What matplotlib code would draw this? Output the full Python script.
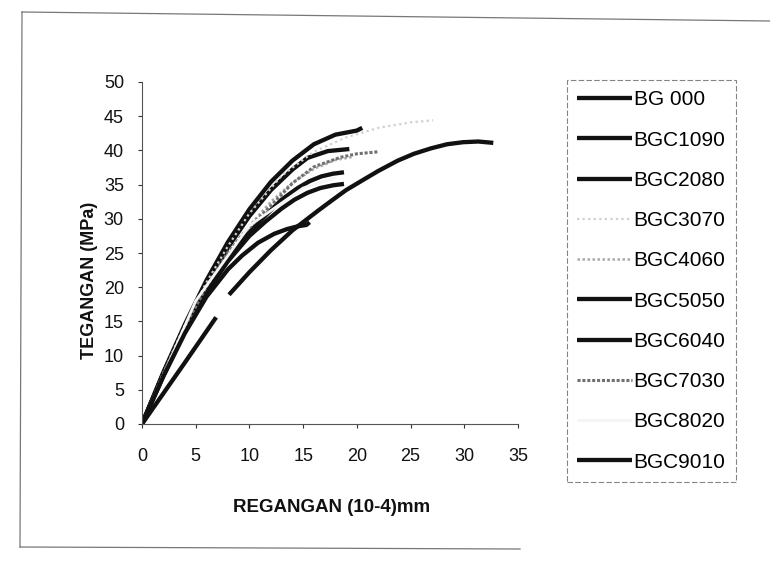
#!/usr/bin/env python3
"""Stress-strain curves for BG/BGC concrete mixes (tegangan vs regangan)."""

import matplotlib

matplotlib.use("Agg")
import matplotlib.pyplot as plt
import numpy as np
from matplotlib.lines import Line2D

plt.rcParams["font.family"] = ["Liberation Sans", "DejaVu Sans"]

W, H = 770, 561

# series: strain (10^-4) and stress (MPa)
labels = ["BG 000", "BGC1090", "BGC2080", "BGC3070", "BGC4060",
          "BGC5050", "BGC6040", "BGC7030", "BGC8020", "BGC9010"]

bg000_x = [0, 2, 4, 6.9, np.nan, 8.1, 10, 12, 14, 16.4, 17.6, 19, 20.6, 22, 23.8,
           25.3, 26.9, 28.4, 29.9, 31.3, 32.7]
bg000_y = [0, 4.5, 9.0, 15.6, np.nan, 18.9, 22.2, 25.4, 28.3, 31.2, 32.6, 34.2, 35.7,
           37.0, 38.5, 39.5, 40.3, 40.9, 41.2, 41.3, 41.1]
bgc1090_x = [0, 2, 4, 6, 8, 10, 12, 14, 16, 18, 20, 20.5]
bgc1090_y = [0, 7.6, 14.6, 21.0, 26.6, 31.4, 35.4, 38.5, 40.9, 42.3, 42.9, 43.3]
bgc2080_x = [0, 2, 4, 6, 8, 10, 12, 14, 15.4, 17.3, 19.3]
bgc2080_y = [0, 7.5, 14.3, 20.4, 25.8, 30.4, 34.2, 37.2, 38.9, 39.9, 40.2]
bgc3070_x = [0, 2, 4, 6, 8, 10, 13, 16, 19, 22, 25, 27.1]
bgc3070_y = [0, 7.6, 14.5, 20.7, 26.0, 30.8, 36.3, 39.8, 41.9, 43.3, 44.1, 44.4]
bgc4060_x = [0, 2, 4, 6, 8, 10, 12, 14, 16, 18, 19.5]
bgc4060_y = [0, 7.3, 14.0, 19.8, 24.8, 29.0, 32.5, 35.3, 37.3, 38.6, 39.0]
bgc5050_x = [0, 2, 4, 6, 8, 9.3, 11.7, 13, 14.5, 15.6, 16.7, 17.8, 18.8]
bgc5050_y = [0, 7.2, 13.8, 19.6, 24.5, 26.9, 30.8, 32.8, 34.5, 35.5, 36.2, 36.6, 36.8]
bgc6040_x = [0, 2, 4, 6, 8, 10, 11.5, 13, 14.2, 15.4, 16.6, 17.8, 18.8]
bgc6040_y = [0, 7.1, 13.6, 19.2, 23.8, 27.5, 29.6, 31.5, 32.8, 33.8, 34.5, 34.9, 35.1]
bgc7030_x = [0, 2, 4, 6, 8, 9.3, 12.3, 14, 16, 18.5, 20, 22]
bgc7030_y = [0, 7.4, 14.2, 20.1, 25.1, 27.6, 32.4, 35.2, 37.6, 39.0, 39.5, 39.8]
bgc8020_x = [0, 5, 10, 15, 18]
bgc8020_y = [0, 18.0, 29.0, 34.5, 36.0]
bgc9010_x = [0, 2, 4, 6, 8, 9.3, 10.8, 12.3, 13.5, 14.5, 15.3, 15.6]
bgc9010_y = [0, 7.0, 13.3, 18.6, 22.6, 24.6, 26.5, 27.8, 28.5, 28.9, 29.1, 29.5]

xs = [bg000_x, bgc1090_x, bgc2080_x, bgc3070_x, bgc4060_x,
      bgc5050_x, bgc6040_x, bgc7030_x, bgc8020_x, bgc9010_x]
ys = [bg000_y, bgc1090_y, bgc2080_y, bgc3070_y, bgc4060_y,
      bgc5050_y, bgc6040_y, bgc7030_y, bgc8020_y, bgc9010_y]

x_ticks = [0, 5, 10, 15, 20, 25, 30, 35]
y_ticks = [0, 5, 10, 15, 20, 25, 30, 35, 40, 45, 50]

SOLID = dict(color="#111111", lw=3.1, ls="-")
styles = {
    "BG 000": SOLID,
    "BGC1090": SOLID,
    "BGC2080": SOLID,
    "BGC3070": dict(color="#cfcfcf", lw=1.6, ls=(0, (1, 1.5))),
    "BGC4060": dict(color="#a8a8a8", lw=1.8, ls=(0, (1, 1))),
    "BGC5050": SOLID,
    "BGC6040": SOLID,
    "BGC7030": dict(color="#707070", lw=2.2, ls=(0, (1, 0.6))),
    "BGC8020": dict(color="#f4f4f4", lw=2.0, ls="-"),
    "BGC9010": SOLID,
}


def px_x(v: float) -> float:
    return v / W


def px_y(v: float) -> float:
    return 1 - v / H


def main() -> None:
    fig = plt.figure(figsize=(W / 100, H / 100), dpi=100)
    fig.patch.set_facecolor("white")

    # outer chart border (scanned, slightly tilted)
    frame_kw = dict(color="#777777", lw=0.9, transform=fig.transFigure)
    fig.add_artist(Line2D([px_x(22), px_x(770)], [px_y(12), px_y(21)], **frame_kw))
    fig.add_artist(Line2D([px_x(22), px_x(20)], [px_y(12), px_y(547)], **frame_kw))
    fig.add_artist(Line2D([px_x(20), px_x(520)], [px_y(547), px_y(549)], **frame_kw))

    left, right, top, bottom = 142, 518, 82, 424
    ax = fig.add_axes([px_x(left), px_y(bottom), (right - left) / W, (bottom - top) / H])

    handles = []
    for name, x, y in zip(labels, xs, ys):
        st = styles[name]
        (ln,) = ax.plot(x, y, color=st["color"], lw=st["lw"], ls=st["ls"],
                        solid_capstyle="butt", solid_joinstyle="round", label=name)
        handles.append(ln)

    ax.set_xlim(0, 35)
    ax.set_ylim(0, 50)
    ax.set_xticks(x_ticks)
    ax.set_yticks(y_ticks)
    ax.tick_params(direction="out", length=3, width=0.8, colors="#333333",
                   labelcolor="#111111", labelsize=13)
    ax.tick_params(axis="x", pad=14)
    ax.tick_params(axis="y", pad=10)
    for side in ["top", "right"]:
        ax.spines[side].set_visible(False)
    for side in ["left", "bottom"]:
        ax.spines[side].set_color("#555555")
        ax.spines[side].set_linewidth(0.8)
    ax.patch.set_alpha(0)

    fig.text(px_x(90), px_y(280), "TEGANGAN (MPa)", rotation=90, ha="center",
             va="center", fontsize=13, fontweight="bold", color="#111111")
    fig.text(px_x(332), px_y(508), "REGANGAN (10-4)mm", ha="center", va="center",
             fontsize=13.5, fontweight="bold", color="#111111")

    leg = fig.legend(handles=handles, loc="upper left",
                     bbox_to_anchor=(px_x(567), px_y(80)), frameon=True,
                     fancybox=False, fontsize=15, handlelength=2.6,
                     handletextpad=0.1, labelspacing=1.02, borderpad=0.5,
                     borderaxespad=0)
    leg.get_frame().set_edgecolor("#666666")
    leg.get_frame().set_linewidth(0.8)
    leg.get_frame().set_linestyle((0, (5, 2)))

    fig.savefig("out.png", dpi=100)
    plt.close(fig)


if __name__ == "__main__":
    main()
